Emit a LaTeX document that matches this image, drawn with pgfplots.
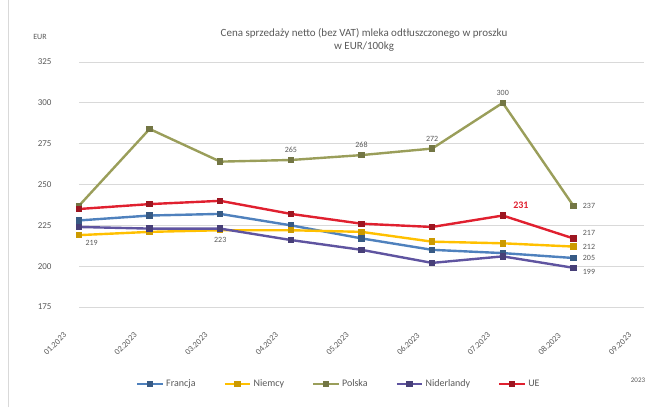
\documentclass[border=0pt]{standalone}
\usepackage{pgfplots}
\pgfplotsset{compat=1.18}
\usepackage{fontspec}
\setmainfont{Carlito}
\definecolor{cfr}{HTML}{4F81BD}
\definecolor{cde}{HTML}{FFC000}
\definecolor{cpl}{HTML}{9A9E5A}
\definecolor{cnl}{HTML}{5F54A0}
\definecolor{ceu}{HTML}{E0202F}
\definecolor{ctxt}{HTML}{595959}
\definecolor{cgrid}{HTML}{D9D9D9}
\begin{document}
\begin{tikzpicture}[x=1pt,y=1pt]
\useasboundingbox (0,0) rectangle (655,407);
\draw[cgrid, line width=0.8pt] (8,0) -- (8,407);
\node[font=\fontsize{11}{13}\selectfont, text=ctxt, align=center] at (364,367) {Cena sprzedaży netto (bez VAT) mleka odtłuszczonego w proszku\\w EUR/100kg};
\node[font=\fontsize{8}{10}\selectfont, text=ctxt] at (40,370) {EUR};
\node[font=\fontsize{7}{9}\selectfont, text=ctxt] at (638,27) {2023};
\begin{axis}[
  at={(79pt,100pt)}, anchor=south west,
  scale only axis, width=565pt, height=245pt,
  xmin=0, xmax=8, ymin=175, ymax=325,
  ytick={175,200,...,325},
  xtick={0,...,8},
  xticklabels={01.2023,02.2023,03.2023,04.2023,05.2023,06.2023,07.2023,08.2023,09.2023},
  xticklabel style={xshift=-16pt, yshift=-20pt, rotate=45, anchor=north east, font=\fontsize{8.5}{10}\selectfont, text=ctxt},
  yticklabel style={font=\fontsize{9}{11}\selectfont, text=ctxt, xshift=-24pt},
  /pgf/number format/assume math mode=true,
  ymajorgrids, grid style={cgrid, line width=0.8pt},
  axis line style={draw=none},
  major tick length=0pt,
  clip=false,
  legend style={at={(0.46,-0.28)}, anchor=north, draw=none, legend columns=5,
    font=\fontsize{10}{12}\selectfont, text=ctxt, /tikz/every even column/.append style={column sep=26pt}},
  legend cell align=left,
  legend image code/.code={\draw[#1, mark repeat=2, mark phase=2] plot coordinates {(0cm,0cm) (0.45cm,0cm) (0.9cm,0cm)};},
  every axis plot/.append style={line width=2.4pt, mark=square*, mark size=2pt, mark options={solid}},
]
\draw[cgrid, line width=0.8pt] (axis cs:0,175) -- (axis cs:8,175);
\addplot[cfr, mark options={fill=cfr!70!black, draw=cfr!70!black}] coordinates {(0,228) (1,231) (2,232) (3,225) (4,217) (5,210) (6,208) (7,205)};
\addlegendentry{Francja}
\addplot[cde, mark options={fill=cde!80!black, draw=cde!80!black}] coordinates {(0,219) (1,221) (2,222) (3,222) (4,221) (5,215) (6,214) (7,212)};
\addlegendentry{Niemcy}
\addplot[cpl, mark options={fill=cpl!75!black, draw=cpl!75!black}] coordinates {(0,237) (1,284) (2,264) (3,265) (4,268) (5,272) (6,300) (7,237)};
\addlegendentry{Polska}
\addplot[cnl, mark options={fill=cnl!75!black, draw=cnl!75!black}] coordinates {(0,224) (1,223) (2,223) (3,216) (4,210) (5,202) (6,206) (7,199)};
\addlegendentry{Niderlandy}
\addplot[ceu, mark options={fill=ceu!70!black, draw=ceu!70!black}] coordinates {(0,235) (1,238) (2,240) (3,232) (4,226) (5,224) (6,231) (7,217)};
\addlegendentry{UE}
% data labels
\addplot[draw=none, mark=none, forget plot, nodes near coords, point meta=explicit symbolic,
  every node near coord/.style={font=\fontsize{8}{10}\selectfont, text=ctxt, anchor=south, yshift=3pt}]
  coordinates {(3,265)[265] (4,268)[268] (5,272)[272] (6,300)[300]};
\addplot[draw=none, mark=none, forget plot, nodes near coords, point meta=explicit symbolic,
  every node near coord/.style={font=\fontsize{8}{10}\selectfont, text=ctxt, anchor=west, xshift=5pt}]
  coordinates {(7,237)[237] (7,212)[212] (7,205)[205]};
\addplot[draw=none, mark=none, forget plot, nodes near coords, point meta=explicit symbolic,
  every node near coord/.style={font=\fontsize{8}{10}\selectfont, text=ctxt, anchor=west, xshift=5pt, yshift=5pt}]
  coordinates {(7,217)[217]};
\addplot[draw=none, mark=none, forget plot, nodes near coords, point meta=explicit symbolic,
  every node near coord/.style={font=\fontsize{8}{10}\selectfont, text=ctxt, anchor=west, xshift=5pt, yshift=-4pt}]
  coordinates {(7,199)[199]};
\addplot[draw=none, mark=none, forget plot, nodes near coords, point meta=explicit symbolic,
  every node near coord/.style={font=\fontsize{8}{10}\selectfont, text=ctxt, anchor=north, yshift=-4pt}]
  coordinates {(2,223)[223]};
\addplot[draw=none, mark=none, forget plot, nodes near coords, point meta=explicit symbolic,
  every node near coord/.style={font=\fontsize{8}{10}\selectfont, text=ctxt, anchor=north west, xshift=2pt, yshift=-1pt}]
  coordinates {(0,219)[219]};
\addplot[draw=none, mark=none, forget plot, nodes near coords, point meta=explicit symbolic,
  every node near coord/.style={font=\bfseries\fontsize{10}{12}\selectfont, text=ceu, anchor=south west, xshift=6pt, yshift=2pt}]
  coordinates {(6,231)[231]};
\end{axis}
\end{tikzpicture}
\end{document}
